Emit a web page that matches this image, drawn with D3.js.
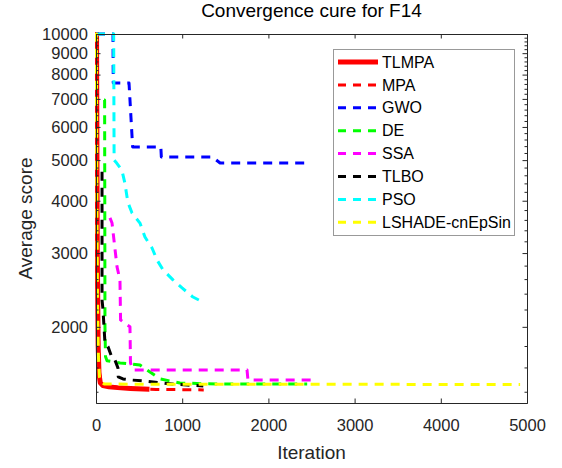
<!DOCTYPE html>
<html>
<head>
<meta charset="utf-8">
<script src="https://cdn.jsdelivr.net/npm/d3@7"></script>
<style>
  body { margin: 0; background: #fff; }
  svg { font-family: "Liberation Sans", Arial, Helvetica, sans-serif; }
</style>
</head>
<body>
<svg id="chart" width="562" height="468"></svg>
<script>
// series: [iteration, average score]
var TLMPA = [[5,12000],[15,3000],[25,1800],[35,1540],[50,1470],[80,1448],[150,1438],[250,1432],[400,1426],[620,1420]];
var MPA   = [[5,12000],[12,4500],[25,2000],[40,1560],[60,1480],[100,1450],[200,1436],[400,1426],[700,1418],[1250,1414]];
var GWO   = [[0,10000],[197,10000],[200,7640],[383,7640],[425,5375],[752,5375],[758,5086],[1350,5086],[1440,4920],[2450,4920]];
var DE    = [[93,6960],[100,6960],[104,2000],[110,1700],[128,1660],[280,1640],[510,1622],[592,1578],[742,1502],[974,1469],[1300,1462],[2450,1460]];
var SSA   = [[162,3640],[186,3538],[244,2780],[278,2589],[285,2078],[360,2021],[394,2000],[400,1640],[429,1578],[1752,1578],[1763,1494],[2500,1494]];
var TLBO  = [[70,4690],[70,2318],[81,2200],[104,1830],[139,1794],[186,1686],[220,1666],[255,1595],[258,1520],[313,1502],[394,1494],[545,1486],[882,1461],[1056,1453],[1245,1445]];
var PSO   = [[0,10000],[205,10000],[210,5000],[240,4920],[300,4735],[335,4410],[360,4083],[372,3953],[418,3740],[510,3538],[568,3276],[650,3085],[708,2888],[777,2736],[893,2589],[998,2477],[1125,2356],[1241,2291]];
var LSHADE= [[3,12000],[10,4000],[18,2200],[28,1700],[40,1520],[60,1470],[100,1460],[4920,1457]];

var seriesNames  = ["TLMPA","MPA","GWO","DE","SSA","TLBO","PSO","LSHADE-cnEpSin"];
var seriesData   = [TLMPA, MPA, GWO, DE, SSA, TLBO, PSO, LSHADE];
var seriesColors = ["#ff0000","#ff0000","#0000ff","#00ff00","#ff00ff","#000000","#00ffff","#ffff00"];

var xTicks = [0,1000,2000,3000,4000,5000];
var yTicks = [2000,3000,4000,5000,6000,7000,8000,9000,10000];
var yMinor = d3.range(1400, 10000, 200).filter(function(v){ return v % 1000 !== 0; });

var svg = d3.select("#chart");
var L = 96, R = 527, T = 34, B = 403;

var x = d3.scaleLinear().domain([0,5000]).range([L,R]);
var y = d3.scaleLog().domain([1316,10000]).range([B,T]);

svg.append("defs").append("clipPath").attr("id","clip")
  .append("rect").attr("x",L-1).attr("y",T-2).attr("width",R-L+1).attr("height",B-T+2);

// lines
var line = d3.line().x(function(d){ return x(d[0]); }).y(function(d){ return y(d[1]); });
var g = svg.append("g").attr("clip-path","url(#clip)");
seriesData.forEach(function(data, i){
  g.append("path")
    .datum(data)
    .attr("d", line)
    .attr("fill","none")
    .attr("stroke", seriesColors[i])
    .attr("stroke-width", i === 0 ? 5 : 3)
    .attr("stroke-dasharray", i === 0 ? null : "9,7")
    .attr("stroke-linejoin","round");
});

// axes, MATLAB style: ticks inside, box on
var axisColor = "#262626";
function styleAxis(sel){
  sel.select(".domain").attr("stroke", axisColor);
  sel.selectAll(".tick line").attr("stroke", axisColor);
  sel.selectAll("text").attr("fill", axisColor).style("font-size","16.5px");
}
svg.append("g").attr("transform","translate(0,"+B+")")
  .call(d3.axisBottom(x).tickValues(xTicks).tickFormat(d3.format("d")).tickSizeInner(-4.5).tickSizeOuter(0).tickPadding(16))
  .call(styleAxis);
svg.append("g").attr("transform","translate(0,"+T+")")
  .call(d3.axisTop(x).tickValues(xTicks).tickFormat("").tickSizeInner(-4.5).tickSizeOuter(0))
  .call(styleAxis);
svg.append("g").attr("transform","translate("+L+",0)")
  .call(d3.axisLeft(y).tickValues(yTicks).tickFormat(d3.format("d")).tickSizeInner(-4.5).tickSizeOuter(0).tickPadding(8))
  .call(styleAxis);
svg.append("g").attr("transform","translate("+L+",0)")
  .call(d3.axisLeft(y).tickValues(yMinor).tickFormat("").tickSizeInner(-2.5).tickSizeOuter(0))
  .call(styleAxis);
svg.append("g").attr("transform","translate("+R+",0)")
  .call(d3.axisRight(y).tickValues(yTicks).tickFormat("").tickSizeInner(-4.5).tickSizeOuter(0))
  .call(styleAxis);
svg.append("g").attr("transform","translate("+R+",0)")
  .call(d3.axisRight(y).tickValues(yMinor).tickFormat("").tickSizeInner(-2.5).tickSizeOuter(0))
  .call(styleAxis);

// labels
svg.append("text").attr("x",(L+R)/2).attr("y",17).attr("text-anchor","middle")
  .style("font-size","19px").attr("fill","#000").text("Convergence cure for F14");
svg.append("text").attr("x",(L+R)/2).attr("y",459).attr("text-anchor","middle")
  .style("font-size","19px").attr("fill",axisColor).text("Iteration");
svg.append("text").attr("transform","translate(32,"+((T+B)/2)+") rotate(-90)").attr("text-anchor","middle")
  .style("font-size","19px").attr("fill",axisColor).text("Average score");

// legend
var lg = svg.append("g");
lg.append("rect").attr("x",333.5).attr("y",49.5).attr("width",181).attr("height",186)
  .attr("fill","#fff").attr("stroke","#999").attr("stroke-width",1);
seriesNames.forEach(function(name, i){
  var ry = 62 + i*22.9;
  lg.append("line").attr("x1",338).attr("x2",378).attr("y1",ry).attr("y2",ry)
    .attr("stroke", seriesColors[i])
    .attr("stroke-width", i === 0 ? 5 : 3)
    .attr("stroke-dasharray", i === 0 ? null : "8,7");
  lg.append("text").attr("x",382).attr("y",ry).attr("dy","0.35em")
    .style("font-size","16px").attr("fill","#000").text(name);
});
</script>
</body>
</html>
